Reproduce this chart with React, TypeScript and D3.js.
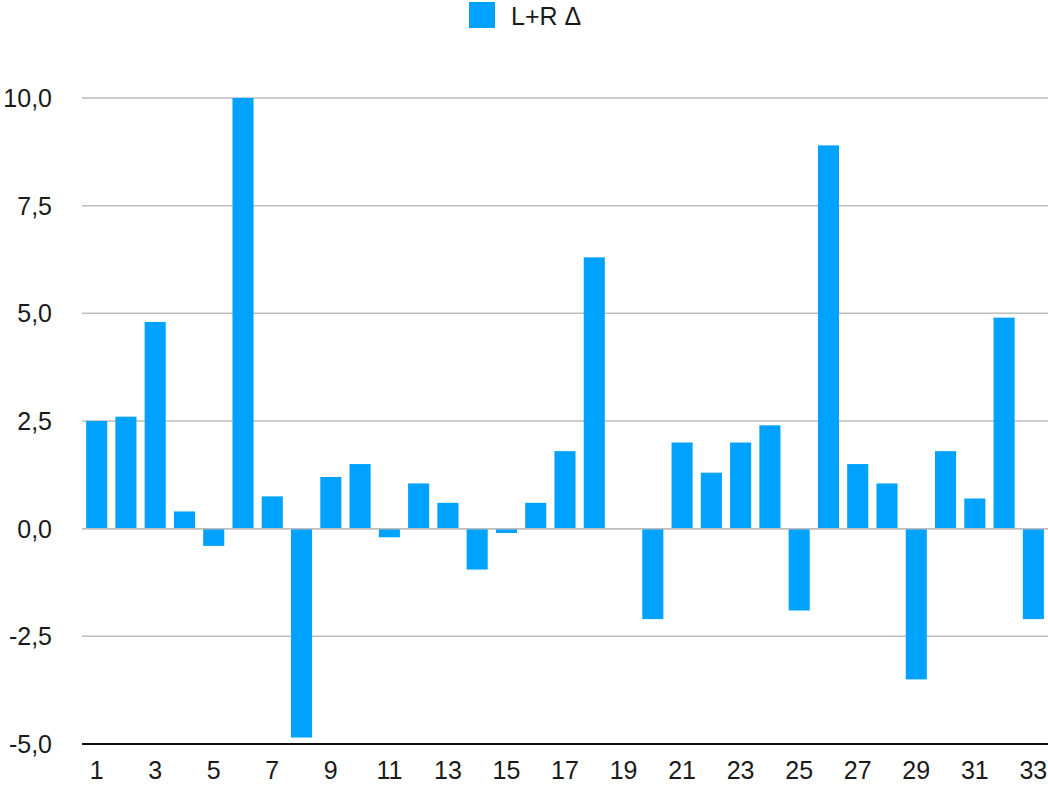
import React from "react";
import * as d3 from "d3";

const categories: string[] = Array.from({ length: 33 }, (_, i) => String(i + 1));
const values: number[] = [
  2.5, 2.6, 4.8, 0.4, -0.4, 10.0, 0.75, -4.85, 1.2, 1.5,
  -0.2, 1.05, 0.6, -0.95, -0.1, 0.6, 1.8, 6.3, 0, -2.1,
  2.0, 1.3, 2.0, 2.4, -1.9, 8.9, 1.5, 1.05, -3.5, 1.8,
  0.7, 4.9, -2.1,
];
const yTicks: number[] = [-5, -2.5, 0, 2.5, 5, 7.5, 10];
const xTickLabels: string[] = categories.filter((_, i) => i % 2 === 0);
const seriesName = "L+R Δ";

const W = 1048;
const H = 786;
const left = 82;
const right = 1048;
const top = 98;
const bottom = 744;
const BLUE = "#00A2FF";
const FONT = "'Liberation Sans', Arial, Helvetica, sans-serif";

const locale = d3.formatLocale({
  decimal: ",",
  thousands: ".",
  grouping: [3],
  currency: ["", "€"],
  minus: "-",
});
const fmt = locale.format(".1f");

export default function App() {
  const x = d3
    .scaleBand<string>()
    .domain(categories)
    .range([left, right])
    .paddingInner(0.28)
    .paddingOuter(0.14);
  const y = d3.scaleLinear().domain([-5, 10]).range([bottom, top]);
  const y0 = y(0);

  return (
    <svg
      width={W}
      height={H}
      style={{ position: "absolute", left: 0, top: 0, background: "#fff" }}
      fontFamily={FONT}
    >
      {/* legend */}
      <rect x={469} y={2} width={26} height={26} fill={BLUE} />
      <text x={511} y={25} fontSize={25} fill="#1a1a1a">
        {seriesName}
      </text>

      {/* gridlines */}
      {yTicks
        .filter((t) => t !== -5)
        .map((t) => (
          <line
            key={"g" + t}
            x1={left}
            x2={right}
            y1={y(t)}
            y2={y(t)}
            stroke="#bdbdbd"
            strokeWidth={1.5}
          />
        ))}

      {/* bars */}
      {values.map((v, i) => {
        const c = categories[i];
        const yy = v >= 0 ? y(v) : y0 + 1;
        const h = Math.abs(y(v) - y0);
        if (v === 0) return null;
        return (
          <rect
            key={"b" + c}
            x={x(c)}
            y={v >= 0 ? yy : y0}
            width={x.bandwidth()}
            height={h}
            fill={BLUE}
          />
        );
      })}

      {/* zero line on top */}
      <line x1={left} x2={right} y1={y0} y2={y0} stroke="#bdbdbd" strokeWidth={1.5} />

      {/* bottom axis */}
      <line x1={left} x2={right} y1={y(-5)} y2={y(-5)} stroke="#111" strokeWidth={2} />

      {/* y labels */}
      {yTicks.map((t) => (
        <text
          key={"yl" + t}
          x={52}
          y={y(t)}
          dy="0.36em"
          textAnchor="end"
          fontSize={25}
          fill="#1a1a1a"
        >
          {fmt(t)}
        </text>
      ))}

      {/* x labels */}
      {xTickLabels.map((c) => (
        <text
          key={"xl" + c}
          x={(x(c) as number) + x.bandwidth() / 2}
          y={779}
          textAnchor="middle"
          fontSize={25}
          fill="#1a1a1a"
        >
          {c}
        </text>
      ))}
    </svg>
  );
}
